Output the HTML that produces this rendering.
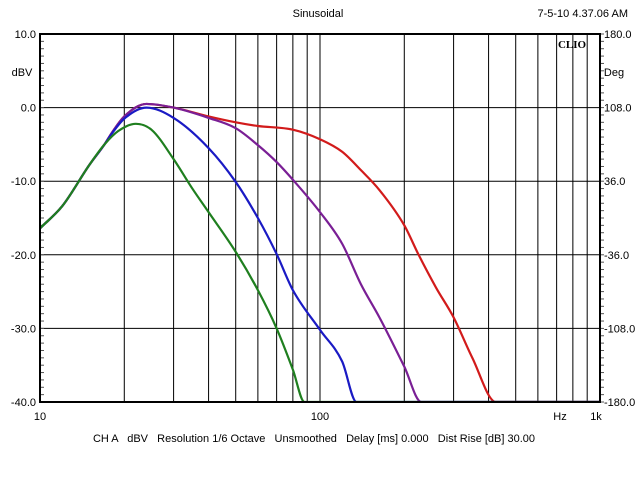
<!DOCTYPE html>
<html><head><meta charset="utf-8"><style>
body{margin:0;background:#fff;width:640px;height:480px;overflow:hidden}
text{font-family:"Liberation Sans",Arial,sans-serif;font-size:11px;fill:#000;white-space:pre}
</style></head><body>
<svg id="chart" width="640" height="480" viewBox="0 0 640 480" xmlns="http://www.w3.org/2000/svg">
<rect width="640" height="480" fill="#fff"/>
<g id="grid"></g>
<g id="ticks"></g>
<g id="curves" clip-path="url(#clip)"></g>
<clipPath id="clip"><rect x="40" y="33" width="560" height="370"/></clipPath>
<rect x="40" y="34" width="560" height="368" fill="none" stroke="#000" stroke-width="2"/>
<text x="318" y="17" text-anchor="middle">Sinusoidal</text>
<text x="628" y="17" text-anchor="end">7-5-10 4.37.06 AM</text>
<text x="572" y="48" text-anchor="middle" style="font-family:'Liberation Serif',serif;font-weight:bold;font-size:11px">CLIO</text>
<text x="22" y="76" text-anchor="middle">dBV</text>
<text x="614" y="76" text-anchor="middle">Deg</text>
<text x="560" y="420" text-anchor="middle">Hz</text>
<text x="314" y="442" text-anchor="middle" xml:space="preserve">CH A   dBV   Resolution 1/6 Octave   Unsmoothed   Delay [ms] 0.000   Dist Rise [dB] 30.00</text>
<g id="labels"></g>
</svg>
<script>
const leftTicks=["10.0","0.0","-10.0","-20.0","-30.0","-40.0"];
const leftVals=[10,0,-10,-20,-30,-40];
const rightTicks=["180.0","108.0","36.0","-36.0","-108.0","-180.0"];
const xTickFreqs=[10,100,1000];
const xTickLabels=["10","100","1k"];
const greenFreqs=[10,12,15,17,19,22,25,30,35,40,50,60,70,80,88,1000];
const greenVals=[-16.4,-13.4,-7.8,-5,-3.2,-2.2,-3,-7,-11,-14.2,-19.6,-24.8,-30,-35.6,-40,-40];
const blueFreqs=[10,12,15,17,18,20,24,30,40,50,60,70,80,100,120,135,1000];
const blueVals=[-16.4,-13.4,-7.8,-5,-3.6,-1.5,0,-1.4,-5.5,-10.1,-15,-19.9,-24.8,-30.2,-34.5,-40,-40];
const purpleFreqs=[10,12,15,17,18,20,24,30,40,50,60,70,80,100,120,140,163,200,230,1000];
const purpleVals=[-16.4,-13.4,-7.8,-5,-3.5,-1.2,0.5,0,-1.4,-2.8,-5.1,-7.4,-9.8,-14.2,-18.5,-24,-28.5,-35.2,-40,-40];
const redFreqs=[10,12,15,17,18,20,24,30,40,50,60,80,100,120,140,163,200,225,260,300,350,425,1000];
const redVals=[-16.4,-13.4,-7.8,-5,-3.5,-1.2,0.5,0,-1.2,-2,-2.5,-3,-4.3,-6,-8.5,-11.2,-16,-20,-24.5,-28.5,-34,-40,-40];

const NS="http://www.w3.org/2000/svg";
const X=f=>40+280*Math.log10(f/10);
const Y=d=>34+(10-d)*7.36;
function mk(tag,attrs,parent){const e=document.createElementNS(NS,tag);for(const k in attrs)e.setAttribute(k,attrs[k]);parent.appendChild(e);return e;}
const grid=document.getElementById('grid'),ticks=document.getElementById('ticks'),labels=document.getElementById('labels'),curves=document.getElementById('curves');
for(let dec=10;dec<1000;dec*=10){for(let m=1;m<10;m++){const f=dec*m;if(f===10)continue;
 const l=mk('line',{x1:X(f),x2:X(f),y1:34,y2:402,stroke:'#000','stroke-width':1},grid);
 
 }}
leftVals.forEach(v=>{const l=mk('line',{x1:40,x2:600,y1:Y(v),y2:Y(v),stroke:'#000','stroke-width':1},grid);
 
 });
for(let d=-40;d<=10;d++){const y=Y(d);
 const a=mk('line',{x1:40,x2:44,y1:y,y2:y,stroke:'#555','stroke-width':1},ticks);
 
 
 const b=mk('line',{x1:600,x2:604,y1:y,y2:y,stroke:'#555','stroke-width':1},ticks);
 
 }
leftVals.forEach((v,i)=>{
 const t=mk('text',{x:36,y:Y(v)+4,'text-anchor':'end'},labels);t.textContent=leftTicks[i];
 
 
 const r=mk('text',{x:604,y:Y(v)+4,'text-anchor':'start'},labels);r.textContent=rightTicks[i];
 
 });
xTickFreqs.forEach((f,i)=>{const t=mk('text',{x:X(f)-(f===1000?4:0),y:420,'text-anchor':'middle'},labels);t.textContent=xTickLabels[i];
 
 });
// monotone cubic (Fritsch-Carlson) in pixel space
function path(fs,vs){const xs=fs.map(X),ys=vs.map(Y),n=xs.length;
 const dl=[],m=new Array(n);
 for(let i=0;i<n-1;i++)dl.push((ys[i+1]-ys[i])/(xs[i+1]-xs[i]));
 m[0]=dl[0];m[n-1]=dl[n-2];
 for(let i=1;i<n-1;i++){m[i]=(dl[i-1]*dl[i]<=0)?0:(dl[i-1]+dl[i])/2;}
 for(let i=0;i<n-1;i++){if(dl[i]===0){m[i]=0;m[i+1]=0;continue;}
  const a=m[i]/dl[i],b=m[i+1]/dl[i],s=a*a+b*b;
  if(s>9){const t=3/Math.sqrt(s);m[i]=t*a*dl[i];m[i+1]=t*b*dl[i];}}
 let d='M'+xs[0]+','+ys[0];
 for(let i=0;i<n-1;i++){const h=(xs[i+1]-xs[i])/3;
  d+=' C'+(xs[i]+h)+','+(ys[i]+m[i]*h)+' '+(xs[i+1]-h)+','+(ys[i+1]-m[i+1]*h)+' '+xs[i+1]+','+ys[i+1];}
 return d;}
[[redFreqs,redVals,'#d21b1b','curve-red'],[purpleFreqs,purpleVals,'#7a1f95','curve-purple'],[blueFreqs,blueVals,'#1a1ac4','curve-blue'],[greenFreqs,greenVals,'#1f7f1f','curve-green']].forEach(s=>{
 const e=mk('path',{d:path(s[0],s[1]),fill:'none',stroke:s[2],'stroke-width':2.2,'stroke-linejoin':'round'},curves);
 
 });
</script>
</body></html>
